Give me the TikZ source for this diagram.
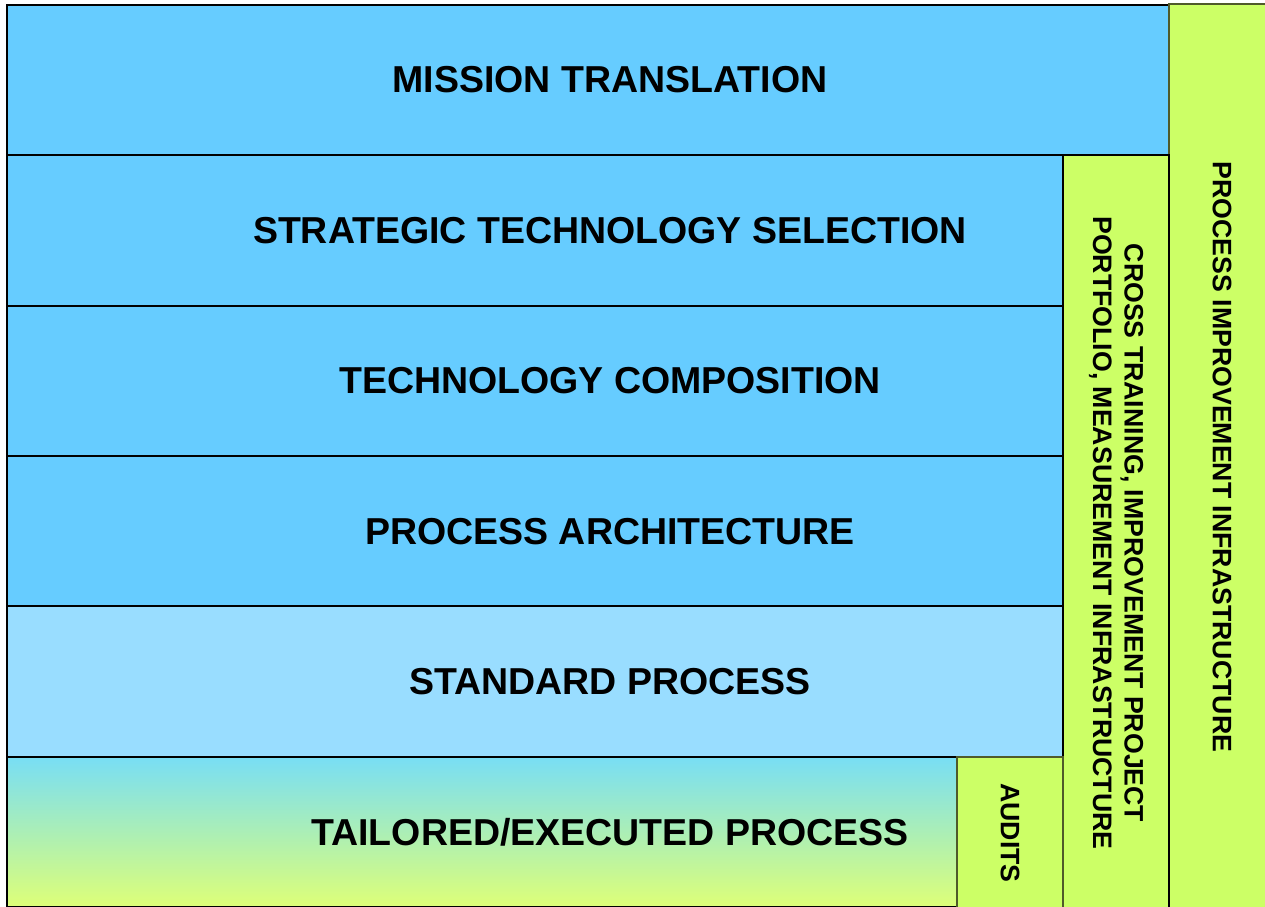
\documentclass[tikz,border=0pt]{standalone}
\usepackage{fontspec}
\setmainfont{Liberation Sans}
\usetikzlibrary{positioning}
\definecolor{skyblue}{HTML}{66CCFF}
\definecolor{paleblue}{HTML}{99DDFF}
\definecolor{limegreen}{HTML}{CCFF66}
\definecolor{olivedark}{HTML}{4F5A2A}

\begin{document}
\begin{tikzpicture}[x=1pt,y=-1pt]
	\useasboundingbox[fill=white] (0,0) rectangle (1265,906);
	\tikzset{LayerStyle/.style =
		{draw = black,
			line width = 1.9pt,
			minimum width = 1206pt,
			minimum height = 150.4pt,
			inner sep = 0pt,
			outer sep = 0pt,
			font = \fontsize{37.5}{44}\selectfont\bfseries},
		ColumnStyle/.style =
		{draw = olivedark,
			line width = 1.6pt,
			fill = limegreen,
			rotate = -90,
			inner sep = 0pt,
			outer sep = 0pt,
			align = center,
			font = \fontsize{26.7}{31.5}\selectfont\bfseries}}
	% layers
	\node[LayerStyle, fill=skyblue] (mission) at (610,80) {MISSION TRANSLATION};
	\node[LayerStyle, fill=skyblue, below=0pt of mission] (strategic) {STRATEGIC TECHNOLOGY SELECTION};
	\node[LayerStyle, fill=skyblue, below=0pt of strategic] (composition) {TECHNOLOGY COMPOSITION};
	\node[LayerStyle, fill=skyblue, below=0pt of composition] (architecture) {PROCESS ARCHITECTURE};
	\node[LayerStyle, fill=paleblue, below=0pt of architecture] (standard) {STANDARD PROCESS};
	\node[LayerStyle, top color={rgb,255:red,120;green,222;blue,245},
		bottom color={rgb,255:red,222;green,255;blue,119},
		below=0pt of standard] (tailored) {TAILORED/EXECUTED PROCESS};
	% side columns
	\node[ColumnStyle, minimum width=906pt, minimum height=106pt] (infra) at (1222,457)
		{PROCESS IMPROVEMENT INFRASTRUCTURE};
	\node[ColumnStyle, draw=black, minimum width=756pt, minimum height=106pt] (cross) at (1116,533)
		{CROSS TRAINING, IMPROVEMENT PROJECT\\PORTFOLIO, MEASUREMENT INFRASTRUCTURE};
	\node[ColumnStyle, minimum width=152pt, minimum height=106pt] (audits) at (1010,833) {AUDITS};
\end{tikzpicture}
\end{document}
